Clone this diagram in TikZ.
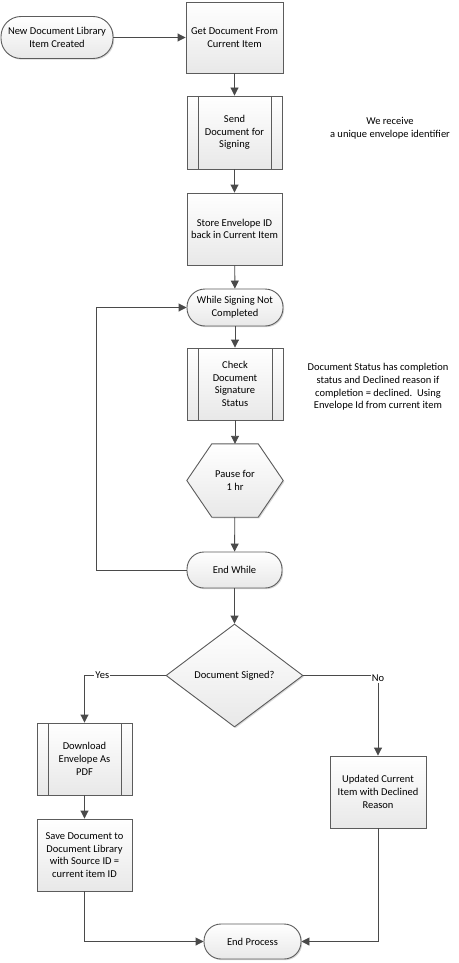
\documentclass[tikz,border=0pt]{standalone}
\usepackage{fontspec}
\setmainfont{Carlito}
\usetikzlibrary{shapes.geometric,arrows.meta,shadows,calc}
\definecolor{lineC}{HTML}{4A4A4A}
\definecolor{edgeC}{HTML}{5C5C5C}
\tikzset{
  base/.style={draw=edgeC, line width=0.9pt, top color=white, bottom color=black!9,
    drop shadow={shadow xshift=1.2pt, shadow yshift=-1.2pt, fill=black!25, opacity=0.6},
    align=center, font=\fontsize{10.5}{12.7}\selectfont, inner sep=2pt},
  procbox/.style={base, rectangle, minimum width=95pt, minimum height=72pt},
  termbox/.style={base, rectangle, rounded corners=17pt, minimum width=96pt, minimum height=36pt},
  subbox/.style={procbox, path picture={
      \draw[edgeC, line width=0.9pt] ([xshift=11pt]path picture bounding box.north west) -- ([xshift=11pt]path picture bounding box.south west);
      \draw[edgeC, line width=0.9pt] ([xshift=-11pt]path picture bounding box.north east) -- ([xshift=-11pt]path picture bounding box.south east);}},
  hexholder/.style={rectangle, minimum width=96pt, minimum height=73pt, align=center, font=\fontsize{10.5}{12.7}\selectfont},
  decbox/.style={base, diamond, aspect=1.33, minimum width=137pt, minimum height=103pt, inner sep=0pt},
  notetext/.style={align=center, font=\fontsize{10.5}{12.7}\selectfont},
  conn/.style={draw=lineC, line width=0.9pt, -{Triangle[length=8pt,width=8pt]}, fill=none},
  plain/.style={draw=lineC, line width=0.9pt},
  lbl/.style={fill=white, inner sep=1pt, font=\fontsize{10.5}{12.7}\selectfont}
}
\begin{document}
\begin{tikzpicture}[x=1pt,y=-1pt]
\useasboundingbox (0,0) rectangle (458,963);
\fill[white] (0,0) rectangle (458,963);

\node[termbox, minimum width=112pt, minimum height=42pt, rounded corners=20pt] (start) at (57,37.5) {New Document Library\\Item Created};
\node[procbox, minimum width=97pt, minimum height=71pt] (get) at (234.5,37.5) {Get Document From\\Current Item};
\node[subbox, minimum height=73pt] (send) at (234.5,132.5) {Send\\Document for\\Signing};
\node[procbox] (store) at (234.5,229) {Store Envelope ID\\back in Current Item};
\node[notetext] (note1) at (390,128) {We receive\\a unique envelope identifier};
\node[termbox, minimum height=37pt, rounded corners=18pt] (while) at (235,307.5) {While Signing Not\\Completed};
\node[subbox, minimum width=96pt] (check) at (235,384) {Check\\Document\\Signature\\Status};
\node[notetext] (note2) at (378,387) {Document Status has completion\\status and Declined reason if\\completion = declined.\ \ Using\\Envelope Id from current item};
\node[hexholder] (pause) at (235,480.5) {Pause for\\1 hr};
\path[base] ([xshift=25pt]pause.north west) -- ([xshift=-25pt]pause.north east) -- (pause.east) -- ([xshift=-25pt]pause.south east) -- ([xshift=25pt]pause.south west) -- (pause.west) -- cycle;
\node[hexholder] at (pause) {Pause for\\1 hr};
\node[termbox, minimum width=95pt] (endwhile) at (234.5,570) {End While};
\node[decbox] (dec) at (234.5,675.5) {Document Signed?};
\node[subbox] (download) at (84.5,759) {Download\\Envelope As\\PDF};
\node[procbox] (save) at (84.5,855) {Save Document to\\Document Library\\with Source ID =\\current item ID};
\node[procbox, minimum width=96pt] (updated) at (378,792) {Updated Current\\Item with Declined\\Reason};
\node[termbox, minimum width=97pt, minimum height=35pt] (endp) at (252.5,941.5) {End Process};
\coordinate (loopc) at (96.7,570);

\draw[conn] (start.east) -- (get.west);
\draw[conn] (get) -- (send);
\draw[conn] (send) -- (store);
\draw[conn] (store) -- (while);
\draw[conn] (while) -- (check);
\draw[conn] (check) -- (pause);
\draw[conn] (pause) -- (endwhile);
\draw[conn] (endwhile) -- (dec);
\draw[conn] (endwhile.west) -- (loopc) |- (while.west);
\draw[conn] (dec.west) -| node[lbl, pos=0.39] {Yes} (download.north);
\draw[conn] (dec.east) -| node[lbl, pos=0.5, yshift=-3pt] {No} (updated.north);
\draw[conn] (download) -- (save);
\draw[conn] (save.south) |- (endp.west);
\draw[conn] (updated.south) |- (endp.east);
\end{tikzpicture}
\end{document}
